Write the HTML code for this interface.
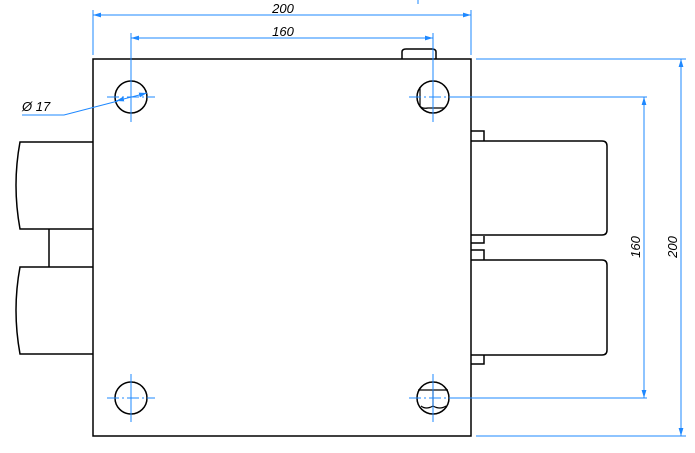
<!DOCTYPE html><html><head><style>body{margin:0;background:#fff}svg{display:block}</style></head><body>
<svg width="695" height="453" viewBox="0 0 695 453" xmlns="http://www.w3.org/2000/svg">
<defs><marker id="a" viewBox="0 0 10 6" refX="10" refY="3" markerWidth="8" markerHeight="5" orient="auto-start-reverse"><path d="M0,0L10,3L0,6z" fill="#1e88ff"/></marker></defs>
<g fill="none" stroke="#000" stroke-width="1.5">
<rect x="93" y="59" width="378" height="377"/>
<path d="M402,59V52Q402,49 406,49H432Q436,49 436,52V59"/>
<path d="M93,142H20Q12,185 20,229H93M49,229V267M93,267H20Q12,310 20,354H93"/>
<path d="M471,141H602Q607,141 607,146V230Q607,235 602,235H471"/>
<path d="M471,260H602Q607,260 607,265V350Q607,355 602,355H471"/>
<path d="M471,131H484V141M471,243H484V236M471,250H484V260M471,364H484V355"/>
<circle cx="131" cy="97" r="16"/><circle cx="433" cy="97" r="16"/>
<circle cx="131" cy="398" r="16"/><circle cx="433" cy="398" r="16"/>
<path d="M420,87V106Q422,109 428,108H444" stroke-width="1.2"/>
<path d="M418,390H448M433,390V406M421,406Q426,410 433,406Q440,410 446,406" stroke-width="1.2"/>
</g>
<g stroke="#1e88ff" stroke-width="1" fill="none">
<path d="M93,10V55M471,10V55M131,33V122M433,33V122M131,374V422M433,374V422M418,0V4"/>
<path d="M107,97H155M409,97H457M107,398H155M409,398H457" stroke-dasharray="12,3,2,3"/>
<path d="M457,97H647M457,398H647M476,59H686M476,436H686"/>
<line x1="93" y1="15" x2="471" y2="15" marker-start="url(#a)" marker-end="url(#a)"/>
<line x1="131" y1="38" x2="433" y2="38" marker-start="url(#a)" marker-end="url(#a)"/>
<line x1="644" y1="97" x2="644" y2="398" marker-start="url(#a)" marker-end="url(#a)"/>
<line x1="681" y1="59" x2="681" y2="436" marker-start="url(#a)" marker-end="url(#a)"/>
<path d="M22,115H64L118,101"/>
<line x1="116" y1="101" x2="147" y2="93" marker-start="url(#a)" marker-end="url(#a)"/>
</g>
<g font-family="Liberation Sans,sans-serif" font-size="13" font-style="italic" fill="#000">
<text x="283" y="13" text-anchor="middle">200</text>
<text x="283" y="36" text-anchor="middle">160</text>
<text x="22" y="111">Ø 17</text>
<text transform="translate(640,247) rotate(-90)" text-anchor="middle">160</text>
<text transform="translate(677,247) rotate(-90)" text-anchor="middle">200</text>
</g>
</svg></body></html>
